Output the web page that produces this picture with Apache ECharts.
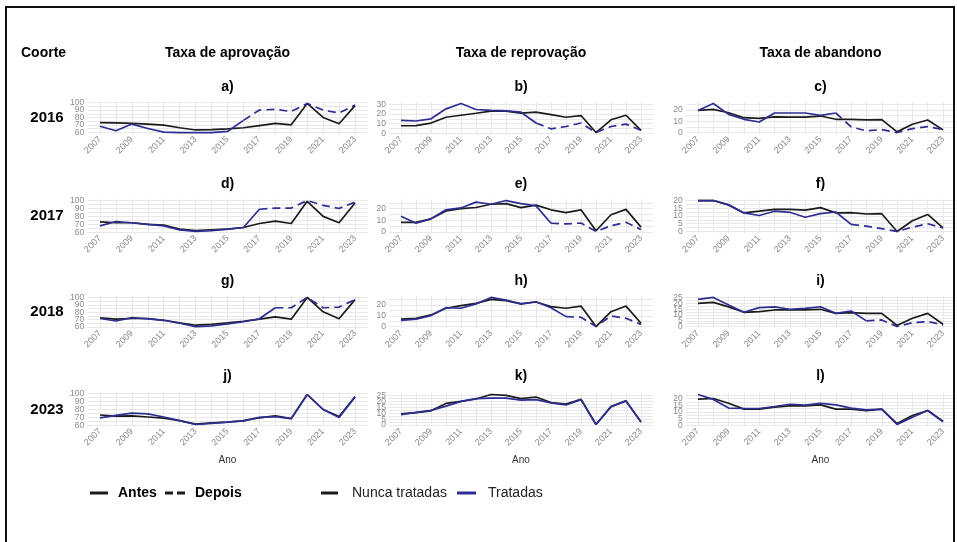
<!DOCTYPE html>
<html>
<head>
<meta charset="utf-8">
<script src="https://cdn.jsdelivr.net/npm/echarts@6/dist/echarts.min.js"></script>
<style>
html,body{margin:0;padding:0;background:#fff;}
#chart{width:957px;height:542px;}
</style>
</head>
<body>
<div id="chart"></div>
<script>
// Years on the horizontal axis and the labelled ones
const years = [2007,2008,2009,2010,2011,2012,2013,2014,2015,2016,2017,2018,2019,2020,2021,2022,2023];
const yearLabels = [2007,2009,2011,2013,2015,2017,2019,2021,2023];

// Cohorts (rows) and rates (columns)
const cohorts = [2016, 2017, 2018, 2023];
const rateTitles = ['Taxa de aprovação', 'Taxa de reprovação', 'Taxa de abandono'];
const panelTags = ['a)','b)','c)','d)','e)','f)','g)','h)','i)','j)','k)','l)'];

// Axis breaks per panel
const breaksAprov = [60,70,80,90,100];
const breaksB = [0,10,20,30];
const breaks10 = [0,10,20];
const breaks5to20 = [0,5,10,15,20];
const breaks5to25 = [0,5,10,15,20,25];

// Coorte 2016
const aprov2016Nunca = [73,72.5,72,71,69.5,66,63,63.5,64.5,66,69,72,70,99,80,71.5,96];
const aprov2016Trat  = [68,62,71,65,60,59.5,59.5,59.5,61,76,90,91,88,99,90,86,97];
const reprov2016Nunca = [7.8,8,10.6,16.6,18.7,20.8,23,23,21,22,19.4,16.6,18.4,0.7,14,18.7,3];
const reprov2016Trat  = [13.4,12.7,15,25.4,31,24.7,23.7,23.3,21.9,10.6,4.6,7,10.6,0.7,7,9.5,3];
const aband2016Nunca = [19.7,20.6,17.6,13.2,12.6,14,13.8,13.8,14.7,11.8,11.8,11.2,11.5,0.6,7.4,11.2,2.4];
const aband2016Trat  = [19.7,25.9,16.2,11.8,9.4,17.4,17.4,17.4,15.3,17.4,5,1.5,2.6,0,3.5,5.3,2.6];

// Coorte 2017
const aprov2017Nunca = [73,72,72,70,69,64,62,63,64,66,71,74,71,99,80,72,97];
const aprov2017Trat  = [68,73.5,72,70,68,63,61,62,64,66,89,90.5,90.5,100,94,90,98];
const reprov2017Nunca = [8.2,8.2,11.2,18,20,21,23.8,24.4,20.9,23,19,16.5,19,0.9,14.7,19.4,4];
const reprov2017Trat  = [13.5,7.4,11.2,19,20.6,25.6,23.8,27,24.4,22.4,7.4,6.8,7.6,0.3,5.3,8.2,2];
const aband2017Nunca = [20,20,17.2,12,13.1,14.3,14.3,13.8,15.4,12,12.2,11.3,11.5,0,6.9,11,2.3];
const aband2017Trat  = [20,20,17.2,12,10.3,13.1,12.4,9.2,11.5,12.6,4.6,3.4,1.8,0,2.8,5,2.3];

// Coorte 2018
const aprov2018Nunca = [72.3,70.5,71.4,71.4,69,65.5,62.3,63.6,65.5,67.7,70.5,73.6,70.5,100,80.5,71,97];
const aprov2018Trat  = [71.4,68,72.7,71,69,65,60.5,61.5,64,67,71,86,86,100,86,87,97];
const reprov2018Nunca = [6.8,7.7,10.8,17,19.4,21.5,25.2,24,21,22.8,18.5,17,19,0,13.8,19,3];
const reprov2018Trat  = [5.8,6.8,10.2,17.5,17,21,27,24.6,21,23,17.5,9.2,8.6,0,9.8,7.7,2];
const aband2018Nunca = [20,20.9,17,12.3,12.9,14.3,14.3,14.3,14.9,11.4,12,11.4,11.4,0.9,7.1,11.4,2];
const aband2018Trat  = [23.4,25.1,18.6,12.3,16.3,16.9,14.9,15.7,17.1,11.4,13.4,4.9,5.7,0,3.4,4.3,1.4];

// Coorte 2023
const aprov2023Nunca = [73,71.5,72,70.5,69,66,61.5,63,64,65.5,69.5,72,68.5,99,80,71,96];
const aprov2023Trat  = [69.5,72.5,75.5,74.5,70.5,66,61,62.5,64,66,70,71,68.5,99,80,70,96];
const reprov2023Nunca = [9.4,10.5,12,18.3,20,22,25.8,25,22.3,23.7,19,17.7,21.8,0.5,15.6,20.4,2.7];
const reprov2023Trat  = [8.9,10.8,12.4,16,20,22.3,22.8,22.8,21,21.5,18.8,17,21.5,0.5,15.6,20.4,2.7];
const aband2023Nunca = [19.5,20,16.4,12,12,13.5,14.5,14.5,15.2,12,12,10.8,12,1.2,7.2,11,3];
const aband2023Trat  = [23,19.3,12.8,12.5,12.5,14,15.7,15,16.4,15.2,12.8,11.5,12,0.5,6,11,2.5];

// Panels in reading order (row = cohort, column = rate)
const panelSeries = [
  [aprov2016Nunca, aprov2016Trat, breaksAprov], [reprov2016Nunca, reprov2016Trat, breaksB], [aband2016Nunca, aband2016Trat, breaks10],
  [aprov2017Nunca, aprov2017Trat, breaksAprov], [reprov2017Nunca, reprov2017Trat, breaks10], [aband2017Nunca, aband2017Trat, breaks5to20],
  [aprov2018Nunca, aprov2018Trat, breaksAprov], [reprov2018Nunca, reprov2018Trat, breaks10], [aband2018Nunca, aband2018Trat, breaks5to25],
  [aprov2023Nunca, aprov2023Trat, breaksAprov], [reprov2023Nunca, reprov2023Trat, breaks5to25], [aband2023Nunca, aband2023Trat, breaks5to20]
];

// ---- layout ----
const FONT = "'Liberation Sans', Arial, Helvetica, sans-serif";
const BLACK = '#1b1b1b';
const BLUE = '#2d2d92';
const GRID_COLOR = '#e8e8e8';
const TICK_COLOR = '#8a8a8a';
const colX = [[100, 355], [401, 641], [698, 943]];   // pixel x of first and last year
const rowTop = [102, 199, 296, 393];
const rowH = [32, 34, 32, 33];
const tagY = [87, 184, 281, 376];
const EXP = 0.8; // horizontal padding in years
const LINE_W = 1.7;

const grids = [], xAxes = [], yAxes = [], series = [];
const colCenter = colX.map(c => (c[0] + c[1]) / 2);

function yLabelStyle(values) {
  return {
    customValues: values, margin: 3,
    showMinLabel: true, showMaxLabel: true, hideOverlap: false,
    fontFamily: FONT, fontSize: 8.5, color: TICK_COLOR
  };
}

panelSeries.forEach((p, idx) => {
  const row = Math.floor(idx / 3), col = idx % 3;
  const [nunca, trat, breaks] = p;
  const ppy = (colX[col][1] - colX[col][0]) / (years[years.length-1] - years[0]);
  grids.push({
    left: colX[col][0] - EXP * ppy,
    width: (16 + 2 * EXP) * ppy,
    top: rowTop[row],
    height: rowH[row],
    containLabel: false
  });
  xAxes.push({
    type: 'value', gridIndex: idx,
    min: years[0] - EXP, max: years[years.length-1] + EXP,
    axisLine: {show: false},
    axisTick: {show: false, customValues: years},
    splitLine: {show: true, lineStyle: {color: GRID_COLOR, width: 1}},
    axisLabel: {
      customValues: yearLabels, rotate: 45, margin: 4,
      showMinLabel: true, showMaxLabel: true,
      fontFamily: FONT, fontSize: 9, color: TICK_COLOR,
      formatter: v => String(v)
    }
  });
  const all = nunca.concat(trat);
  const lo = Math.min(...all), hi = Math.max(...all), r = hi - lo;
  const yMin = lo - 0.05 * r, yMax = hi + 0.05 * r;
  const half = (breaks[1] - breaks[0]) / 2;
  const ticks = [];
  for (let v = Math.ceil(yMin / half) * half; v <= yMax + 1e-9; v += half) ticks.push(+v.toFixed(4));
  // the breaks are split over two stacked axes so that every label is kept
  const evenBreaks = breaks.filter((b, i) => i % 2 === 0);
  const oddBreaks = breaks.filter((b, i) => i % 2 === 1);
  yAxes.push({
    type: 'value', gridIndex: idx, position: 'left',
    min: yMin, max: yMax,
    axisLine: {show: false},
    axisTick: {show: false, customValues: ticks},
    splitLine: {show: true, lineStyle: {color: GRID_COLOR, width: 1}},
    axisLabel: yLabelStyle(evenBreaks)
  });
  yAxes.push({
    type: 'value', gridIndex: idx, position: 'left', offset: 0,
    min: yMin, max: yMax,
    axisLine: {show: false},
    axisTick: {show: false, customValues: oddBreaks},
    splitLine: {show: false},
    axisLabel: yLabelStyle(oddBreaks)
  });
  const yi = 2 * idx;
  const cohort = cohorts[row];
  series.push({
    type: 'line', xAxisIndex: idx, yAxisIndex: yi, symbol: 'none', z: 2,
    data: years.map((y, i) => [y, nunca[i]]),
    lineStyle: {color: BLACK, width: LINE_W}
  });
  series.push({
    type: 'line', xAxisIndex: idx, yAxisIndex: yi, symbol: 'none', z: 3,
    data: years.map((y, i) => [y, trat[i]]).filter(d => d[0] <= cohort),
    lineStyle: {color: BLUE, width: LINE_W}
  });
  if (cohort < years[years.length-1]) {
    series.push({
      type: 'line', xAxisIndex: idx, yAxisIndex: yi, symbol: 'none', z: 3,
      data: years.map((y, i) => [y, trat[i]]).filter(d => d[0] >= cohort),
      lineStyle: {color: BLUE, width: LINE_W, type: [8, 5]}
    });
  }
});

// ---- text and frame ----
function txt(text, x, y, size, weight, color, align) {
  return {
    type: 'text', z: 10,
    style: {
      text: text, x: x, y: y,
      font: (weight || 'normal') + ' ' + size + 'px ' + FONT,
      fill: color || '#000',
      align: align || 'center', verticalAlign: 'middle',
      textAlign: align || 'center', textVerticalAlign: 'middle'
    }
  };
}
const graphics = [];
graphics.push({
  type: 'polyline', z: 10,
  shape: {points: [[6, 560], [6, 7], [954, 7], [954, 560]]},
  style: {stroke: '#111', lineWidth: 2, fill: null}
});
graphics.push(txt('Coorte', 21, 53, 14, 'bold', '#000', 'left'));
rateTitles.forEach((t, c) => graphics.push(txt(t, colCenter[c], 53, 14, 'bold')));
panelTags.forEach((t, idx) => {
  const row = Math.floor(idx / 3), col = idx % 3;
  graphics.push(txt(t, colCenter[col], tagY[row], 14, 'bold'));
});
cohorts.forEach((c, row) => graphics.push(txt(String(c), 47, rowTop[row] + rowH[row] / 2, 15, 'bold')));
colCenter.forEach(cx => graphics.push(txt('Ano', cx, 460, 10, 'normal', '#333')));

// legend
const LY = 493;
graphics.push({type: 'line', z: 10, shape: {x1: 90, y1: LY, x2: 108, y2: LY}, style: {stroke: BLACK, lineWidth: 3}});
graphics.push(txt('Antes', 118, LY, 14, 'bold', '#000', 'left'));
graphics.push({type: 'line', z: 10, shape: {x1: 165, y1: LY, x2: 189, y2: LY}, style: {stroke: BLACK, lineWidth: 3, lineDash: [8, 4]}});
graphics.push(txt('Depois', 195, LY, 14, 'bold', '#000', 'left'));
graphics.push({type: 'line', z: 10, shape: {x1: 321, y1: LY, x2: 338, y2: LY}, style: {stroke: BLACK, lineWidth: 3}});
graphics.push(txt('Nunca tratadas', 352, LY, 14, 'normal', '#222', 'left'));
graphics.push({type: 'line', z: 10, shape: {x1: 457, y1: LY, x2: 476, y2: LY}, style: {stroke: BLUE, lineWidth: 3}});
graphics.push(txt('Tratadas', 488, LY, 14, 'normal', '#222', 'left'));

const chart = echarts.init(document.getElementById('chart'), null, {renderer: 'canvas'});
chart.setOption({
  animation: false,
  backgroundColor: '#fff',
  grid: grids,
  xAxis: xAxes,
  yAxis: yAxes,
  series: series,
  graphic: graphics
});
</script>
</body>
</html>
